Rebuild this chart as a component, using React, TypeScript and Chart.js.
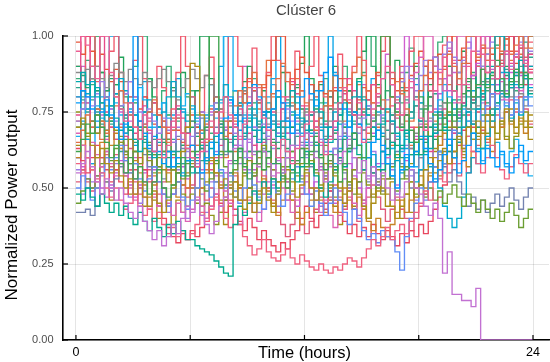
import { useEffect, useRef } from 'react';
import { Chart, registerables } from 'chart.js';

Chart.register(...registerables);

const TITLE = 'Clúster 6';
const X_TITLE = 'Time (hours)';
const Y_TITLE = 'Normalized Power output';
const X_TICKS = [0, 6, 12, 18, 24];
const X_TICK_LABELS = ['0', '', '', '', '24'];
const Y_TICKS = [0, 0.25, 0.5, 0.75, 1];
const STEP_HOURS = 0.25; // 15-minute resolution, 96 steps per day
const END_HOUR = 24;

const S_A = [
  .95,1,.97,.9, .86,1,1,.88, .8,.76,.72,.78, .7,.66,.74,.69,
  .62,.66,.6,.64, .7,.74,.68,.63, .6,.57,.62,.66, .72,.68,.75,.8,
  .74,.7,.66,.71, .77,.83,.79,.73, .69,.64,.6,.66, .62,.58,.63,.67,
  .71,.75,.7,.65, .61,.66,.72,.78, .83,.79,.74,.7, .65,.7,.76,.81,
  .86,.9,.84,.78, .74,.8,.85,.79, .73,.69,.75,.82, .88,.93,.87,.82,
  .78,.84,.9,.95, 1,.94,.88,.92, .86,.9,.95,.89, .93,.97,.91,.88,
];
const S_B = [
  .62,.66,.71,.68, .74,.7,.65,.6, .64,.58,.55,.6, .53,.57,.52,.48,
  .52,.56,.5,.47, .51,.55,.6,.54, .57,.62,.66,.7, 1,1,.72,.66,
  .62,.58,.63,.57, .53,.58,.62,.56, .6,.65,.58,.54, .5,.55,.59,.63,
  .58,.62,.67,.6, .56,.61,.57,.52, .58,.63,.68,.64, .6,.66,.72,.77,
  1,1,.8,.75, .7,.74,.69,.65, .7,.76,.8,.74, .69,.73,.78,.72,
  .76,.81,.86,.8, .84,.89,.83,.87, .92,.86,.81,.85, .89,.84,.88,.86,
];
const S_C = [
  .78,.82,.8,.76, .72,.75,.79,.74, .7,.66,.71,.75, 1,.72,.68,.63,
  .67,.62,.58,.62, .57,.6,.55,.59, .64,.59,.55,.6, .65,.61,.68,.73,
  .79,.74,.69,.73, .78,.84,.8,.75, .7,.76,.82,.78, .72,.68,.74,.8,
  .86,.81,.77,.82, .88,.93,.87,.82, .76,.7,.75,.71, .66,.6,.65,.69,
  .64,.58,.54,.5, .56,.61,.57,.62, .67,.63,.58,.52, .56,.61,.66,.6,
  .55,.59,.64,.68, .62,.58,.63,.6, .57,.62,.58,.55, .6,.64,.59,.62,
];
const S_D = [
  .55,.58,.62,.57, .52,.48,.53,.5, .46,.5,.45,.42, .4,.44,.39,.36,
  .33,.36,.31,.34, .38,.35,.4,.44, .42,.46,.41,.38, .35,.39,.44,.47,
  .58,.63,.67,.62, .66,.61,.57,.62, .58,.54,.59,.55, .6,.64,.59,.63,
  .68,.64,.6,.56, .52,.57,.61,.58, .62,.66,.6,.55, .59,.53,.57,.51,
  .55,.5,.46,.51, .47,.52,.56,.5, .48,.44,.41,.45, .4,.22,.29,.15,
  .15,.13,.13,.11, .17,0,0,0, 0,0,0,0, 0,0,0,0,
];
const S_E = [
  .7,.73,.68,.64, .6,.63,.58,.55, .59,.54,.5,.53, .48,.52,.47,.44,
  .49,.45,.42,.46, .5,.55,.62,.7, .91,.9,.74,.66, .6,.55,.5,.53,
  .48,.52,.46,.43, .47,.42,.45,.5, .46,.42,.48,.52, .56,.52,.47,.51,
  .55,.5,.46,.49, .53,.58,.54,.5, .45,.49,.53,.48, .44,.4,.45,.49,
  .53,.48,.44,.4, .44,.48,.52,.47, .51,.56,.6,.55, .59,.63,.58,.62,
  .67,.63,.7,.66, .72,.68,.74,.7, .66,.71,.76,.72, .68,.73,.7,.74,
];
const S_F = [
  .85,.88,.84,.8, .83,.78,.74,.77, .73,.69,.74,.7, .66,.62,.67,.64,
  .6,.65,.61,.57, .62,.58,.54,.59, .55,.6,.64,.59, .63,.67,.71,.66,
  .62,.67,.72,.68, .73,.69,.65,.7, .75,.71,.67,.72, .77,.82,.78,.73,
  .69,.74,.79,.75, .7,.65,.69,.74, .78,.74,.8,.85, .79,.74,.7,.66,
  .71,.76,.72,.68, .63,.68,.73,.77, .72,.67,.63,.68, .73,.69,.64,.6,
  .65,.7,.75,.71, .76,.81,.86,.9, 1,1,.88,.83, .87,.92,.86,.9,
];
const S_G = [
  .48,.46,.5,.47, .44,.48,.45,.42, .45,.41,.44,.4, .38,.42,.39,.36,
  .4,.37,.34,.38, .35,.39,.36,.33, .33,.31,.3,.29, .28,.26,.24,.22,
  .21,.38,.44,.41, .45,.49,.46,.52, .48,.53,.5,.55, .6,.56,.52,.57,
  .62,.58,.54,.5, .47,.52,.56,.6, .57,.62,.66,.61, .56,.6,.55,.51,
  .56,.61,.65,.6, .64,.69,.65,.61, .66,.62,.67,.71, .75,.7,.74,.79,
  .73,.77,.82,.78, .83,.79,.84,.88, .82,.86,.8,.84, .88,.83,.87,.81,
];
const S_H = [
  .65,.69,.74,.7, .76,.72,.68,.73, .77,.82,.78,.74, .7,.66,.71,.75,
  .79,.74,.7,.65, .69,.73,.68,.64, .6,.64,.69,.65, .7,.75,.71,.67,
  .72,.77,.82,.78, .83,.88,.84,.8, .76,.81,.86,.91, .85,.8,.76,.82,
  .78,.74,.69,.73, .77,.82,.87,.83, .79,.84,.88,.93, .87,.82,.78,.83,
  .79,.75,.8,.85, .81,.76,.72,.77, .82,.87,.92,.88, .84,.89,.94,.9,
  .86,.91,1,1, .93,.97,.92,.96, 1,.95,.99,.94, .97,1,.96,1,
];
const S_I = [
  .58,.55,.6,.56, .52,.55,.5,.47, .5,.46,.43,.45, .48,.44,.41,.43,
  .39,.42,.38,.35, .37,.34,.36,.33, .35,.38,.42,.39, .43,.47,.44,.4,
  .37,.41,.38,.34, .31,.28,.3,.33, .29,.27,.26,.28, .3,.27,.25,.28,
  .26,.24,.23,.25, .23,.22,.24,.23, .25,.27,.26,.24, .27,.3,.33,.31,
  .34,.37,.33,.36, .38,.35,.39,.42, .45,.49,.46,.52, .56,.52,.58,.62,
  .58,.63,.67,.62, .58,.55,.6,.64, .6,.56,.53,.57, .61,.58,.55,.58,
];
const S_J = [
  .5,.54,.5,.46, .5,.55,.6,.56, .6,.64,.59,.55, .58,.53,.49,.53,
  .57,.52,.48,.44, .48,.52,.47,.43, .46,.5,.55,.51, .47,.52,.56,.5,
  .54,.49,.45,.5, .55,.51,.47,.43, .47,.52,.48,.44, .48,.53,.57,.52,
  .48,.44,.49,.45, .41,.45,.5,.46, .42,.38,.43,.4, .36,.33,.35,.32,
  .36,.34,.33,.29, .23,.34,.4,.45, .5,.46,.52,.57, .62,.58,.64,.69,
  .65,.7,.75,.71, .76,.72,.77,.81, .77,.73,.78,.74, .79,.75,.8,.77,
];
const S_K = [
  .72,.76,.8,.77, .81,.85,.8,.76, .72,.77,.81,.85, .8,.75,.71,.76,
  .72,.68,.73,.69, .65,.7,.66,.62, .67,.71,.75,.7, .74,.78,.73,.69,
  .73,.68,.64,.6, .65,.7,.66,.71, .67,.63,.68,.72, .76,.72,.68,.64,
  .6,.65,.7,.66, .62,.58,.63,.67, .71,.67,.63,.68, .73,.77,.73,.69,
  .74,.79,.84,.8, .85,.9,.86,.82, .87,.92,.88,.93, .89,.94,.98,.93,
  .88,.92,.96,1, .95,.9,.94,.98, 1,1,.95,.9, .94,.98,1,.95,
];
const S_L = [
  .68,.64,.6,.65, .61,.57,.62,.58, .54,.58,.54,.5, .46,.5,.47,.43,
  .47,.44,.48,.45, .41,.45,.42,.39, .43,.47,.44,.4, .44,.48,.52,.49,
  .45,.41,.38,.42, .46,.42,.39,.43, .47,.51,.55,.5, .46,.42,.46,.5,
  .54,.5,.46,.42, .46,.41,.37,.41, .45,.49,.45,.41, .45,.5,.55,.51,
  .56,.6,.65,.7, .74,.78,.83,.88, .93,1,1,.9, .86,.82,.87,.92,
  1,1,.84,.78, .83,1,.96,.86, .81,.85,.79,.83, .87,.82,.86,.9,
];
const S_M = [
  .45,.49,.53,.5, .54,.58,.63,.59, .63,.67,.62,.58, .62,.66,.7,.65,
  .61,.57,.62,.66, .61,.57,.53,.58, .62,.57,.53,.49, .53,.58,.62,.57,
  .52,.56,.6,.55, .5,.54,.58,.62, .57,.53,.49,.53, .57,.62,.58,.53,
  .57,.61,.56,.6, .64,.59,.55,.6, .56,.52,.48,.52, .56,.6,.55,.5,
  .54,.58,.53,.49, .53,.57,.52,.48, .51,.47,.5,.46, .49,.45,.48,.51,
  .47,.44,.48,.45, .42,.46,.43,.4, .43,.39,.42,.45, .41,.37,.4,.43,
];
const S_N = [
  .8,.76,.81,.85, .8,.76,.72,.77, .81,.86,.82,.78, .74,.7,.75,.79,
  .74,.7,.75,.8, .85,.8,.76,.72, .77,.73,.69,.74, .7,.75,.79,.84,
  .79,.74,.78,.83, .78,.73,.69,.74, .78,.74,.7,.66, .7,.75,.71,.67,
  .72,.68,.64,.69, .65,.7,.75,.71, .67,.63,.68,.64, .6,.65,.61,.57,
  .62,.58,.54,.59, .55,.6,.56,.52, .56,.61,.57,.53, .5,.44,.4,.37,
  .4,.47,.55,.6, .58,.63,.67,.72, .76,.81,.77,.73, .78,.74,.79,.83,
];
const S_O = [
  .6,.64,.6,.56, .6,.65,.69,.64, .68,.63,.59,.55, .59,.55,.51,.47,
  .51,.55,.6,.55, .51,.47,.51,.55, .5,.46,.5,.55, .59,.55,.51,.47,
  .51,.55,.5,.46, .5,.45,.49,.53, .49,.45,.41,.46, .5,.46,.42,.38,
  .42,.46,.5,.46, .42,.46,.42,.46, .5,.46,.43,.47, .43,.39,.36,.4,
  .37,.34,.38,.42, .46,.42,.46,.5, .54,.5,.55,.6, .64,.68,.64,.6,
  .65,.61,.57,.62, .66,.7,.66,.62, .66,.7,.75,.71, .76,.72,.68,.72,
];
const S_P = [
  .75,.71,.67,.72, .68,.72,.77,.73, .69,.65,.61,.66, .62,.58,.63,.59,
  .55,.6,.56,.52, .56,.52,.48,.44, .48,.45,.41,.45, .41,.38,.42,.46,
  .5,.47,.51,.55, .59,.55,.6,.64, .6,.56,.52,.57, .53,.49,.54,.58,
  .63,.59,.55,.51, .55,.51,.47,.52, .48,.52,.56,.6, .55,.51,.47,.52,
  .48,.53,.57,.61, .57,.53,.58,.62, .66,.71,.67,.63, .67,.71,.75,.7,
  .66,.62,.67,.71, .67,.63,.68,.72, .68,.72,.67,.63, .67,.71,.75,.7,
];
const S_Q = [
  .42,.42,.43,.41, .44,.48,.52,.49, .53,.57,.62,.58, .62,.66,.61,.57,
  .61,.57,.53,.57, .62,.67,.63,.59, .64,.68,.73,.69, .65,.7,.66,.61,
  .65,.7,.74,.7, .66,.62,.58,.63, .67,.72,.68,.64, .6,.64,.69,.65,
  .61,.57,.62,.58, .54,.59,.63,.59, .55,.51,.56,.6, .56,.52,.57,.53,
  .49,.53,.58,.62, .58,.54,.5,.55, .6,.56,.52,.57, .61,.57,.52,.56,
  .52,.48,.44,.47, .43,.46,.42,.45, .48,.44,.47,.5, .46,.43,.47,.5,
];
const S_R = [
  .88,.85,.89,.86, .9,.86,.83,.87, .91,.88,.85,.89, .86,.84,.88,.85,
  .83,.86,.89,.85, .82,.79,.83,.86, .89,.86,.83,.87, .84,.8,.76,.8,
  .77,.73,.78,.82, .78,.74,.7,.75, .71,.76,.72,.68, .73,.77,.73,.7,
  .75,.79,.75,.71, .67,.72,.76,.72, .68,.64,.68,.73, .69,.65,.7,.74,
  .7,.66,.71,.75, .71,.67,.63,.68, .72,.77,.73,.69, .74,.78,.74,.7,
  .75,.8,.76,.72, .77,.81,.85,.8, .76,.8,.84,.8, .85,.81,.77,.82,
];
const S_S = [
  .63,.59,.55,.6, .64,.6,.56,.52, .56,.52,.48,.52, .56,.6,.56,.52,
  .48,.44,.4,.37, .34,.32,.35,.33, .36,.34,.37,.4, .44,.48,.45,.42,
  .46,.43,.39,.36, .4,.37,.33,.36, .33,.31,.29,.32, .3,.33,.36,.4,
  .44,.4,.37,.41, .45,.49,.46,.42, .39,.35,.38,.34, .37,.34,.38,.35,
  .33,.36,.34,.31, .35,.32,.36,.34, .38,.35,.39,.43, .47,.51,.55,.6,
  .64,.69,.74,.7, .75,.8,.76,.81, .86,.91,1,1, .93,.88,.84,.89,
];
const S_T = [
  .74,1,1,.72, .68,1,.75,.7, .66,.71,.67,.63, .68,.72,.77,.73,
  .78,.74,.7,.66, .72,.77,.73,.68, .64,.6,.65,.6, .56,.6,.64,.69,
  .66,.71,.76,.72, .68,.64,.6,.65, .7,.75,.71,.76, .8,.85,.81,.77,
  .72,.67,.72,.76, .71,.67,.72,.76, .81,.86,.82,.78, .74,.79,.84,.8,
  .76,.72,.77,.73, .69,.74,.7,.66, .7,.66,.62,.67, .71,.76,.72,.68,
  .73,.78,.83,.79, .84,.89,.85,.81, .86,.9,.86,.91, 1,1,.9,.94,
];
const S_U = [
  .9,.87,.83,.86, .82,.78,.82,.86, .81,.77,.73,.69, .65,.69,.65,.61,
  .57,.61,.65,.6, .56,.6,.64,.68, .72,.67,.63,.59, .55,.59,.55,.51,
  .55,.59,.63,.58, .62,.67,.71,.66, .62,.58,.63,.67, .63,.59,.55,.6,
  .64,.69,.65,.61, .66,.7,.66,.62, .66,.7,.75,.71, .75,.71,.67,.71,
  .67,.63,.68,.64, .6,.56,.61,.65, .61,.65,.7,.66, .62,.58,.62,.66,
  .7,.74,.7,.66, .7,.74,.78,.74, .78,.82,.87,.83, 1,1,.9,.86,
];
const S_V = [
  .67,.71,.76,.72, .77,.73,.69,.73, .78,.74,.7,.74, .79,.83,.79,.75,
  .7,.74,.78,.73, .69,.73,.77,.81, .76,.72,.68,.73, .77,.73,.78,1,
  1,.82,.78,.74, .7,.74,.79,.75, .8,.84,.8,.76, .72,.77,.73,.68,
  .64,.69,.65,.61, .66,.62,.58,.63, .67,.72,.68,.64, .69,.74,.7,.66,
  .62,.58,.63,.67, .62,.66,.61,.57, .61,.66,.7,.75, .79,.84,.8,.76,
  .72,.76,.72,.68, .63,.59,.64,.6, .65,.61,.57,.62, .66,.62,.58,.54,
];
const S_W = [
  .6,.57,.53,.5, .54,.5,.47,.51, .55,.59,.55,.51, .47,.51,.55,.6,
  .56,.52,.48,.44, .48,.52,.57,.53, .57,.61,.66,.62, .58,.54,.5,.55,
  .59,.64,.6,.56, .6,.56,.52,.48, .52,.56,.6,.56, .52,.48,.44,.48,
  .52,.48,.52,.57, .53,.49,.45,.49, .53,.58,.54,.5, .46,.5,.54,.58,
  .62,.66,.71,.67, .63,.59,.63,.67, .71,.67,.72,.76, .81,.86,.82,.78,
  .74,.78,.82,.87, .91,1,1,.89, .84,.79,.84,.88, .83,.87,.92,.88,
];
const S_X = [
  .98,.94,1,.95, .9,.94,.89,.85, .89,.85,.81,.85, .8,.76,.8,.75,
  .71,.76,.72,.68, .73,.69,.65,.7, .74,.7,.66,.71, .76,.8,.76,.72,
  .68,.72,.77,.81, .86,.82,.78,.83, .87,.92,1,1, .88,.84,.89,.93,
  .88,.84,.8,.85, .81,.77,.82,.86, .82,.78,.74,.79, .83,.79,.84,.88,
  1,1,.86,.82, .86,.82,.87,.91, .95,.9,.86,.9, .94,.9,.95,1,
  .92,.96,.91,.87, .92,.96,1,.94, .9,.94,.99,.95, .91,.96,.92,.88,
];
const S_Y = [
  .83,.79,.75,.79, .75,.71,.67,.71, .66,.62,.66,.7, .74,.7,.66,.62,
  .66,.7,.66,.62, .66,.62,.58,.63, .59,.55,.59,.64, .6,.65,.61,.66,
  .7,.66,.62,.67, .72,.76,.72,.68, .73,.69,.65,.7, .66,.62,.67,.71,
  .76,.72,.68,.73, .77,.82,.78,.74, .79,.75,.71,.76, .8,.76,.72,.77,
  .73,.69,.74,.78, .83,.79,.75,.8, .76,.72,.77,.81, .77,.73,.69,.74,
  .79,.84,.8,.76, .8,.85,.9,.86, .9,.94,.89,.85, .89,.93,.98,.93,
];
const S_Z = [
  .52,.56,.52,.49, .53,.57,.61,.57, .61,.65,.6,.56, .52,.48,.52,.56,
  .52,.48,.52,.56, .6,.55,.51,.47, .51,.55,.5,.46, .5,.46,.42,.46,
  .5,.54,.5,.46, .5,.54,.58,.54, .5,.46,.42,.38, .34,.38,.42,.38,
  .35,.39,.43,.47, .43,.47,.51,.47, .43,.47,.43,.39, .43,.47,.51,.47,
  .43,.39,.43,.47, .43,.4,.36,.4, .44,.48,.52,.57, .53,.58,.62,.58,
  .54,.59,.55,.6, .64,.69,.65,.7, .74,.7,.75,.79, .75,.8,.76,.71,
];
const S_AA = [
  .9,.78,1,1, .85,.7,.82,.95, 1,.88,.74,.8, .92,1,.86,.72,
  .78,.9,.83,.7, .76,.88,1,.9, .8,.68,.75,.87, .93,.8,.71,.84,
  1,1,.9,.78, .85,.96,.83,.74, .88,1,.92,.8, .73,.86,.95,.82,
  .77,.9,1,.87, .8,.7,.83,.94, .86,.78,.9,1, .92,.82,.74,.87,
  .95,1,.88,.79, .9,.83,.95,1, 1,.9,.82,.93, .86,.97,1,.91,
  .84,.93,1,1, .9,.96,.88,1, 1,.92,.97,1, .95,1,.93,.98,
];
const S_BB = [
  .7,.82,.76,.9, 1,.88,.8,.72, .84,.93,.8,.7, .78,.66,.75,.86,
  .8,.7,.62,.74, .83,.76,.88,.8, .7,.82,1,1, .86,.75,.68,.8,
  .72,.64,.77,.85, .9,.78,.7,.82, .75,.66,.8,.88, .79,.7,.83,.91,
  1,.86,.76,.84, .72,.8,.9,.78, .7,.82,.74,.86, .95,1,1,.84,
  .76,.88,.8,.92, .85,.74,.83,.9, .8,.7,.84,.93, .86,.78,.9,.82,
  .88,.95,.85,.79, .9,.84,.94,.88, .97,1,.9,.86, .93,.88,1,1,
];
const S_CC = [
  .6,.72,.66,.58, .7,.8,.74,1, 1,.82,.68,.76, .64,.72,.85,.7,
  .62,.7,.78,.66, .74,.86,.75,.68, .8,.7,.63,.72, .84,.76,.9,1,
  .8,.7,.78,.66, .74,.82,.7,.62, .75,.86,1,.9, .78,.7,.8,.72,
  .65,.74,.82,.7, .78,1,.88,.76, .7,.62,.74,.8, .69,.77,.86,.75,
  .68,.6,.72,.8, .7,.63,.75,.84, .78,.9,.8,.7, .62,.55,.66,.74,
  .68,.78,.7,.82, .9,.8,.72,.84, .78,.88,.8,.72, .84,.92,.86,.8,
];
const S_DD = [
  .8,.9,.78,.7, .82,.74,.66,.76, .86,.75,.64,.72, .6,.7,.8,.68,
  .62,.74,.66,.56, .65,.76,.68,.6, .72,.64,.56,.66, .75,.68,.6,.7,
  .78,.7,.8,.9, .8,.7,.62,.74, .66,.58,.7,.78, .68,.6,.72,.64,
  .74,.84,.72,.64, .7,.8,.7,.6, .68,.76,.66,.74, .84,.76,.68,.78,
  .86,.94,.84,.76, .88,1,.9,.8, .72,.84,.92,.82, .74,.86,.96,.88,
  .8,.9,.98,.86, .94,1,.92,.84, .9,.82,.94,1, .88,.96,.9,.84,
];
const S_EE = [
  .86,.8,.92,.84, .76,.88,.8,.72, .84,.76,.68,.8, .9,1,1,.86,
  .78,.7,.82,.9, .8,.72,.64,.74, .82,.74,.66,.58, .68,.78,.7,.62,
  .72,.82,.74,.66, .76,.86,.78,.7, .6,.72,.8,.7, .62,.74,.84,.76,
  .68,.58,.7,.78, .86,.76,.68,.8, .9,.82,.72,.8, .88,1,.9,.8,
  .72,.82,.74,.66, .78,.88,.96,.86, .78,.7,.82,.9, .98,1,.9,.82,
  .92,.84,.76,.88, .8,.9,.82,.76, .86,.94,1,.9, .82,.9,.84,.94,
];
const S_FF = [
  .72,.64,.78,.86, .74,.66,.6,.7, .8,.7,.62,.56, .66,.58,.7,.62,
  .54,.64,.72,.62, .56,.66,.58,.5, .6,.7,.64,.56, .66,.76,.68,.6,
  .7,.62,.74,.82, .72,.64,.76,.84, .92,.8,.7,.78, .68,.78,.86,.76,
  .66,.74,.64,.56, .66,.76,.68,.6, .72,.82,.74,.84, .76,.68,.78,.7,
  .62,.72,.64,.74, .82,.72,.64,.7, .6,.7,.8,.72, .64,.74,.84,.76,
  .86,.78,.7,.8, .9,.82,.74,.86, .96,1,1,.92, 1,.94,.88,.96,
];
const S_GG = [
  .56,.48,.6,.52, .44,.54,.62,.5, .58,.66,.55,.47, .53,.45,.56,.64,
  .52,.44,.5,.42, .48,.56,.46,.4, .5,.58,.48,.42, .52,.62,.54,.46,
  .55,.47,.58,.66, .56,.48,.42,.52, .6,.5,.44,.54, .46,.56,.64,.54,
  .48,.58,.5,.44, .54,.46,.56,.66, .58,.5,.6,.52, .44,.54,.62,.52,
  .58,.66,.56,.48, .56,.64,.54,.46, .56,.66,.58,.68, .76,.66,.58,.68,
  .74,.64,.72,.8, .7,.78,.86,.76, .84,.92,.82,.74, .8,.88,.8,.9,
];
const S_HH = [
  .64,.56,.66,.58, .5,.6,.52,.46, .56,.64,.54,.48, .58,.5,.44,.54,
  .46,.4,.5,.44, .38,.46,.42,.5, .58,.5,.44,.52, .6,.52,.46,.38,
  .44,.52,.46,.54, .62,.54,.48,.56, .5,.44,.52,.6, .52,.46,.4,.48,
  .56,.48,.42,.5, .58,.5,.44,.38, .44,.5,.44,.52, .46,.4,.48,.56,
  .5,.44,.52,.46, .4,.48,.42,.5, .56,.48,.54,.62, .54,.62,.7,.62,
  .68,.6,.7,.78, .68,.76,.66,.74, .82,.72,.66,.76, .7,.8,.72,.66,
];

const SERIES_VALUES = [
  S_A, S_B, S_C, S_D, S_E, S_F, S_G, S_H, S_I, S_J, S_K, S_L, S_M,
  S_N, S_O, S_P, S_Q, S_R, S_S, S_T, S_U, S_V, S_W, S_X, S_Y, S_Z,
  S_AA, S_BB, S_CC, S_DD, S_EE, S_FF, S_GG, S_HH,
];
const SERIES_COLORS = [
  '#ED5E93', '#3EA44E', '#009AFA', '#C271D2', '#AC8E18', '#00AAAE', '#00A98D',
  '#E36F47', '#F06180', '#618DF6', '#9B7FE9', '#DD64B5', '#6B9E32', '#00A9CD',
  '#C68225', '#8E971D', '#7483B0', '#8A8A8A', '#E8475F', '#E64B8B', '#1FA66B',
  '#1AB0F0', '#C85AD4', '#E8563A', '#2CA58D', '#E05A7A',
  '#F05A6E', '#21A35A', '#0BA5E8', '#D05ECF', '#3AAE7A', '#E5723F', '#9A7BE6', '#A88B17',
];

function toSteps(values: number[]) {
  const pts = values.map((v, i) => ({ x: i * STEP_HOURS, y: v }));
  pts.push({ x: END_HOUR, y: values[values.length - 1] });
  return pts;
}

const FONT = '"Liberation Sans", Arial, Helvetica, sans-serif';

const decorPlugin = {
  id: 'decor',
  afterDraw(chart: any) {
    const { ctx, chartArea, scales } = chart;
    ctx.save();
    ctx.strokeStyle = '#000';
    ctx.lineWidth = 1.2;
    X_TICKS.forEach((v) => {
      const px = scales.x.getPixelForValue(v);
      ctx.beginPath();
      ctx.moveTo(px, chartArea.bottom);
      ctx.lineTo(px, chartArea.bottom - 5);
      ctx.stroke();
    });
    Y_TICKS.forEach((v) => {
      const py = scales.y.getPixelForValue(v);
      ctx.beginPath();
      ctx.moveTo(chartArea.left, py);
      ctx.lineTo(chartArea.left + 5, py);
      ctx.stroke();
    });
    ctx.fillStyle = '#000';
    ctx.font = `16.5px ${FONT}`;
    ctx.textAlign = 'center';
    ctx.textBaseline = 'middle';
    ctx.fillText(X_TITLE, (chartArea.left + chartArea.right) / 2 - 1.5, chartArea.bottom + 13);
    ctx.translate(12.5, 205);
    ctx.rotate(-Math.PI / 2);
    ctx.font = `17px ${FONT}`;
    ctx.fillText(Y_TITLE, 0, 0);
    ctx.restore();
  },
};

export default function App() {
  const ref = useRef<HTMLCanvasElement | null>(null);
  useEffect(() => {
    if (!ref.current) return;
    const chart = new Chart(ref.current, {
      type: 'line',
      data: {
        datasets: SERIES_VALUES.map((vals, i) => ({
          data: toSteps(vals),
          borderColor: SERIES_COLORS[i % SERIES_COLORS.length],
          borderWidth: 1.35,
          pointRadius: 0,
          fill: false,
          stepped: true,
          tension: 0,
        })),
      },
      options: {
        animation: false,
        responsive: false,
        devicePixelRatio: 1,
        parsing: false,
        normalized: true,
        events: [],
        layout: { padding: { left: 0, right: 1, top: 0, bottom: 0 } },
        plugins: {
          legend: { display: false },
          tooltip: { enabled: false },
          title: {
            display: true,
            text: TITLE,
            fullSize: false,
            color: '#444',
            font: { family: FONT, size: 15, weight: 'normal' },
            padding: { top: 1.5, bottom: 16.5 },
          },
        },
        scales: {
          x: {
            type: 'linear',
            min: -0.68,
            max: 24.84,
            afterBuildTicks: (scale: any) => {
              scale.ticks = X_TICKS.map((v) => ({ value: v }));
            },
            afterFit: (scale: any) => {
              scale.height = 22;
            },
            ticks: {
              autoSkip: false,
              maxRotation: 0,
              padding: 5,
              color: '#000',
              font: { family: FONT, size: 12.5 },
              callback: (value: any) => {
                const idx = X_TICKS.indexOf(Number(value));
                return idx >= 0 ? X_TICK_LABELS[idx] : '';
              },
            },
            grid: { color: 'rgba(0,0,0,0.1)', lineWidth: 1, drawTicks: false },
            border: { display: true, color: '#000', width: 1.6 },
          },
          y: {
            type: 'linear',
            min: 0,
            max: 1,
            afterBuildTicks: (scale: any) => {
              scale.ticks = Y_TICKS.map((v) => ({ value: v }));
            },
            afterFit: (scale: any) => {
              scale.width = 63;
            },
            ticks: {
              padding: 9.5,
              color: '#4d4d4d',
              font: { family: FONT, size: 11 },
              callback: (value: any) => Number(value).toFixed(2),
            },
            grid: { color: 'rgba(0,0,0,0.1)', lineWidth: 1, drawTicks: false },
            border: { display: true, color: '#000', width: 1.6 },
          },
        },
      },
      plugins: [decorPlugin],
    } as any);
    return () => chart.destroy();
  }, []);
  return (
    <div style={{ position: 'fixed', left: 0, top: 0, width: 550, height: 362, background: '#fff' }}>
      <canvas ref={ref} width={550} height={362} style={{ display: 'block', width: 550, height: 362 }} />
    </div>
  );
}
